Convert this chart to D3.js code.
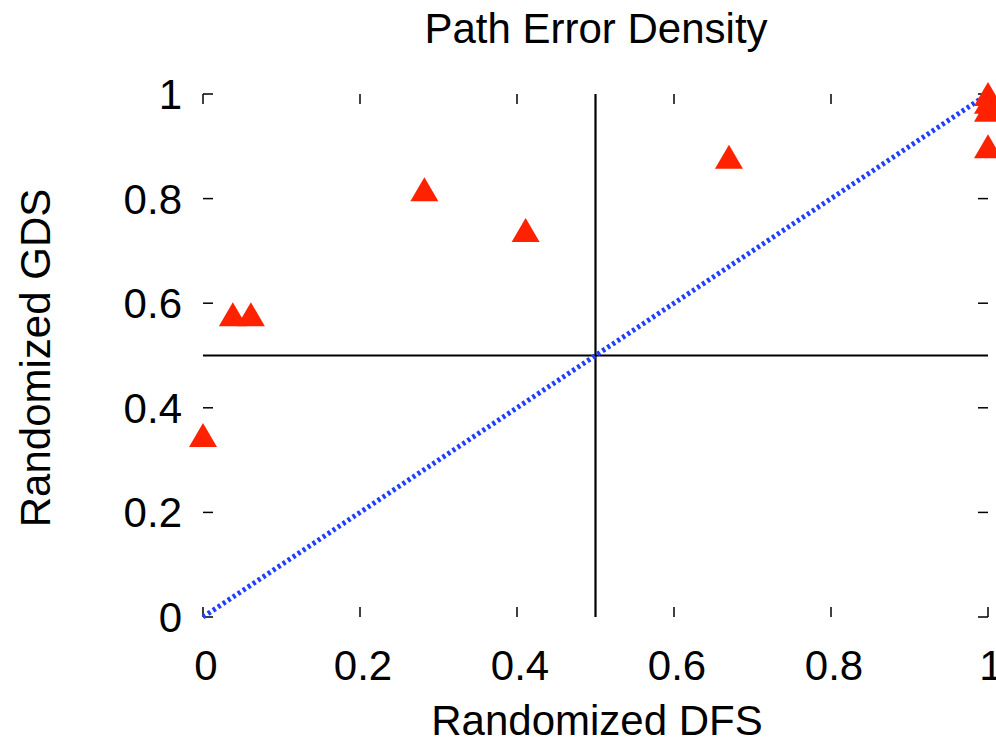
<!DOCTYPE html>
<html><head><meta charset="utf-8">
<script src="https://cdn.jsdelivr.net/npm/d3@7"></script>
<style>body{margin:0;background:#fff;} text{font-family:"Liberation Sans",Arial,sans-serif;fill:#000;}</style>
</head><body><svg id="c" width="996" height="747"></svg>
<script>
const title = "Path Error Density";
const xLabel = "Randomized DFS";
const yLabel = "Randomized GDS";
const xTicks = [0, 0.2, 0.4, 0.6, 0.8, 1];
const yTicks = [0, 0.2, 0.4, 0.6, 0.8, 1];
const dfs = [0, 0.038, 0.061, 0.282, 0.411, 0.67, 1, 1, 1, 1];
const gds = [0.348, 0.579, 0.579, 0.818, 0.74, 0.88, 1.0, 0.985, 0.97, 0.90];
const diagonal = [[0,0],[1,1]];

const svg = d3.select("#c");
const x = d3.scaleLinear().domain([0,1]).range([203,988]);
const y = d3.scaleLinear().domain([0,1]).range([617,94]);
const fs = 42;

const g = svg.append("g");
const tl = 10;
xTicks.forEach(t=>{
  g.append("line").attr("x1",x(t)).attr("x2",x(t)).attr("y1",y(0)).attr("y2",y(0)-tl).attr("stroke","#000").attr("stroke-width",1.5);
  g.append("line").attr("x1",x(t)).attr("x2",x(t)).attr("y1",y(1)).attr("y2",y(1)+tl).attr("stroke","#000").attr("stroke-width",1.5);
  g.append("text").attr("x",x(t)+3).attr("y",y(0)+63).attr("text-anchor","middle").attr("font-size",fs).text(d3.format("")(t));
});
yTicks.forEach(t=>{
  g.append("line").attr("x1",x(0)).attr("x2",x(0)+tl).attr("y1",y(t)).attr("y2",y(t)).attr("stroke","#000").attr("stroke-width",1.5);
  g.append("line").attr("x1",x(1)).attr("x2",x(1)-tl).attr("y1",y(t)).attr("y2",y(t)).attr("stroke","#000").attr("stroke-width",1.5);
  g.append("text").attr("x",x(0)-21).attr("y",y(t)+15).attr("text-anchor","end").attr("font-size",fs).text(d3.format("")(t));
});

svg.append("line").attr("x1",x(0.5)).attr("x2",x(0.5)).attr("y1",y(0)).attr("y2",y(1)).attr("stroke","#000").attr("stroke-width",2.2);
svg.append("line").attr("x1",x(0)).attr("x2",x(1)).attr("y1",y(0.5)).attr("y2",y(0.5)).attr("stroke","#000").attr("stroke-width",2.2);

svg.append("path").datum(diagonal).attr("d",d3.line().x(d=>x(d[0])).y(d=>y(d[1])))
  .attr("stroke","#1f3fff").attr("stroke-width",5).attr("stroke-dasharray","3,3").attr("fill","none");

const w = 28, h = 24;
svg.append("g").selectAll("path").data(dfs.map((d,i)=>[d,gds[i]])).join("path")
  .attr("d",d=>{const cx=x(d[0]), cy=y(d[1]); return `M${cx},${cy-h/2}L${cx+w/2},${cy+h/2}L${cx-w/2},${cy+h/2}Z`;})
  .attr("fill","#ff2200");

svg.append("text").attr("x",596).attr("y",43).attr("text-anchor","middle").attr("font-size",fs).text(title);
svg.append("text").attr("x",597).attr("y",735).attr("text-anchor","middle").attr("font-size",fs).text(xLabel);
svg.append("text").attr("transform","translate(50,358) rotate(-90)").attr("text-anchor","middle").attr("font-size",fs).text(yLabel);
</script></body></html>
